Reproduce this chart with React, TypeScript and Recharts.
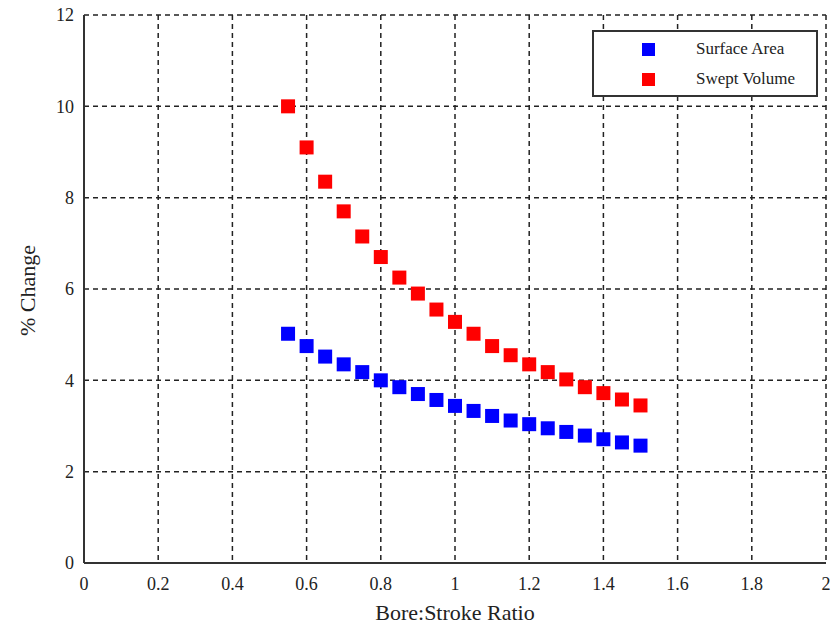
import React from "react";
import {
  CartesianGrid,
  Scatter,
  ScatterChart,
  XAxis,
  YAxis
} from "recharts";

const ratios = [
  0.55, 0.6, 0.65, 0.7, 0.75, 0.8, 0.85, 0.9, 0.95, 1.0,
  1.05, 1.1, 1.15, 1.2, 1.25, 1.3, 1.35, 1.4, 1.45, 1.5
];
const surfaceArea = [
  5.02, 4.75, 4.52, 4.35, 4.18, 4.0, 3.85, 3.7, 3.57, 3.44,
  3.33, 3.22, 3.12, 3.04, 2.95, 2.87, 2.79, 2.71, 2.64, 2.57
];
const sweptVolume = [
  10.0, 9.1, 8.35, 7.7, 7.15, 6.7, 6.25, 5.9, 5.55, 5.28,
  5.02, 4.75, 4.55, 4.35, 4.18, 4.02, 3.85, 3.72, 3.58, 3.45
];
const xTicks = [0, 0.2, 0.4, 0.6, 0.8, 1, 1.2, 1.4, 1.6, 1.8, 2];
const yTicks = [0, 2, 4, 6, 8, 10, 12];

const surfaceRows = ratios.map((x, i) => ({ x, y: surfaceArea[i] }));
const sweptRows = ratios.map((x, i) => ({ x, y: sweptVolume[i] }));

const font = "'Liberation Serif', 'Times New Roman', serif";

function square(color: string) {
  return (p: any) => (
    <rect x={p.cx - 7} y={p.cy - 7} width={14} height={14} fill={color} />
  );
}

// legend drawn as an overlay so it does not shrink the plot area
function LegendBox() {
  const items = [
    { label: "Surface Area", color: "#0000ff" },
    { label: "Swept Volume", color: "#ff0000" }
  ];
  return (
    <div
      style={{
        position: "absolute",
        left: 592,
        top: 30,
        width: 222,
        height: 63,
        border: "2px solid #333",
        background: "#fff",
        fontFamily: font,
        fontSize: 17,
        color: "#222"
      }}
    >
      {items.map((it, i) => (
        <div
          key={it.label}
          style={{ position: "absolute", left: 48, top: 10 + i * 30, height: 14, display: "flex", alignItems: "center" }}
        >
          <span style={{ width: 13, height: 13, background: it.color, display: "inline-block", flex: "none" }} />
          <span style={{ marginLeft: 41, whiteSpace: "nowrap" }}>{it.label}</span>
        </div>
      ))}
    </div>
  );
}

export default function App() {
  return (
    <div style={{ position: "absolute", left: 0, top: 0, width: 834, height: 626, background: "#fff", fontFamily: font }}>
      <ScatterChart width={834} height={626} margin={{ top: 15, right: 8, bottom: 3, left: 14 }}>
        <CartesianGrid stroke="#222" strokeWidth={1.5} strokeDasharray="5 4" />
        <XAxis
          type="number"
          dataKey="x"
          domain={[0, 2]}
          ticks={xTicks}
          tickLine={false}
          axisLine={{ stroke: "#333", strokeWidth: 2 }}
          tick={{ fill: "#222", fontFamily: font, fontSize: 18 }}
          tickMargin={8}
          height={60}
          label={{ value: "Bore:Stroke Ratio", position: "insideBottom", offset: 3, fill: "#222", fontFamily: font, fontSize: 22 }}
        />
        <YAxis
          type="number"
          dataKey="y"
          domain={[0, 12]}
          ticks={yTicks}
          tickLine={false}
          axisLine={{ stroke: "#333", strokeWidth: 2 }}
          tick={{ fill: "#222", fontFamily: font, fontSize: 18 }}
          tickMargin={4}
          width={70}
          label={{ value: "% Change", angle: -90, position: "insideLeft", offset: 13, dy: 47, fill: "#222", fontFamily: font, fontSize: 22 }}
        />
        <Scatter name="Surface Area" data={surfaceRows} fill="#0000ff" shape={square("#0000ff")} isAnimationActive={false} />
        <Scatter name="Swept Volume" data={sweptRows} fill="#ff0000" shape={square("#ff0000")} isAnimationActive={false} />
      </ScatterChart>
      <LegendBox />
    </div>
  );
}
